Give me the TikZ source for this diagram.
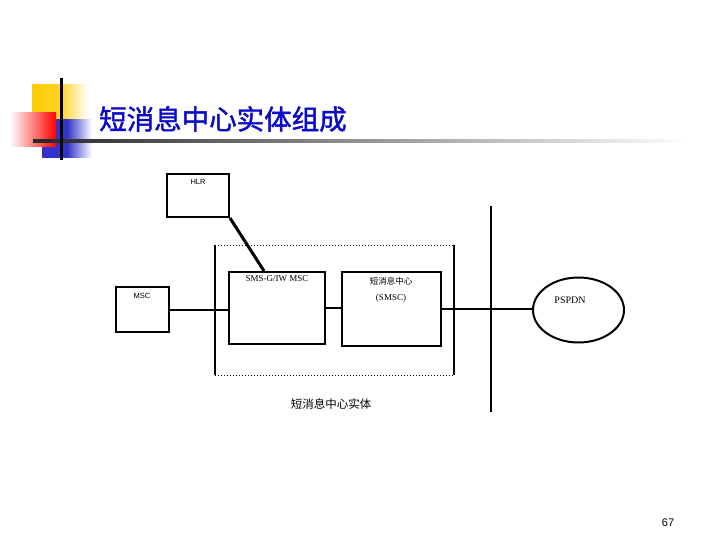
\documentclass[tikz,border=0pt]{standalone}
\usepackage{fontspec}
\setmainfont{Liberation Serif}
\newfontfamily\cjk{Noto Sans CJK SC}
\newfontfamily\cjkb[FakeBold=1.5]{Noto Sans CJK SC}
\newfontfamily\sans{Liberation Sans}
\usetikzlibrary{shapes.geometric,calc}
\definecolor{ttlblue}{RGB}{10,10,200}
\definecolor{gold}{RGB}{255,204,0}
\definecolor{dblue}{RGB}{51,51,204}
\tikzset{
  box/.style={draw=black, line width=2pt, minimum width=#1, inner sep=0pt},
  lbl/.style={inner sep=0pt, font=\fontsize{9}{10}\selectfont},
  conn/.style={line width=2pt},
}
\begin{document}
\begin{tikzpicture}[x=1pt,y=-1pt]
\useasboundingbox (0,0) rectangle (720,540);
% title decoration
\shade[left color=gold, right color=white, middle color=gold!85] (32,85) rectangle (88,121);
\shade[left color=dblue, right color=white, middle color=dblue] (42,120) rectangle (92,158);
\shade[left color=white, right color=red] (10,113) rectangle (56,147);
\shade[left color=black!85, right color=white] (33,139.5) rectangle (690,142.5);
\fill[black] (59.5,78) rectangle (62.5,160);
\node[anchor=west, inner sep=0pt, text=ttlblue, font=\cjkb\fontsize{27.5}{30}\selectfont] (title) at (99,119) {短消息中心实体组成};
% entity box
\coordinate (eA) at (215,245);
\coordinate (eB) at (454,375);
\draw[line width=1.2pt] (eA) -- (eA |- eB);
\draw[line width=1.2pt] (eB |- eA) -- (eB);
\draw[line width=1pt, dotted] (eA) -- (eB |- eA);
\draw[line width=1pt, dotted] (eA |- eB) -- (eB);
% boxes
\node[box=62pt, minimum height=43pt] (hlr) at (198,195.5) {};
\node[lbl, font=\sans\fontsize{7.5}{8}\selectfont] (hlrt) at (198,181.5) {HLR};
\node[box=53pt, minimum height=45pt] (msc) at (142.5,309.5) {};
\node[lbl, font=\sans\fontsize{7.5}{8}\selectfont] (msct) at (142,296) {MSC};
\node[box=96pt, minimum height=72pt] (smsg) at (277,308) {};
\node[lbl] (smsgt) at (277,279) {SMS-G/IW MSC};
\node[box=99pt, minimum height=74pt] (smsc) at (391.5,309) {};
\node[lbl, font=\cjk\fontsize{8.5}{10}\selectfont] (smsct1) at (391,281) {短消息中心};
\node[lbl] (smsct2) at (391,298) {(SMSC)};
\node[draw, ellipse, line width=2pt, minimum width=91pt, minimum height=65pt, inner sep=0pt] (pspdn) at (578.5,310) {};
\node[lbl, font=\fontsize{10}{11}\selectfont] (pspdnt) at (570,300) {PSPDN};
% bus
\coordinate (busT) at (491,206);
\coordinate (busB) at (491,412);
\draw[line width=2.5pt] (busT) -- (busB);
% connectors
\draw[conn] (msc.east) -- (msc.east -| smsg.west);
\draw[conn] (smsg.east) -- (smsg.east -| smsc.west);
\draw[conn] (smsc.east) -- (smsc.east -| pspdn.west);
\draw[line width=3pt] (hlr.south east) -- ($(smsg.north west)+(36,0)$);
% caption
\node[inner sep=0pt, font=\cjk\fontsize{11.5}{12}\selectfont] (cap) at (331,404) {短消息中心实体};
\node[inner sep=0pt, font=\sans\fontsize{11}{12}\selectfont] (pg) at (668,523) {67};
\end{tikzpicture}
\end{document}
